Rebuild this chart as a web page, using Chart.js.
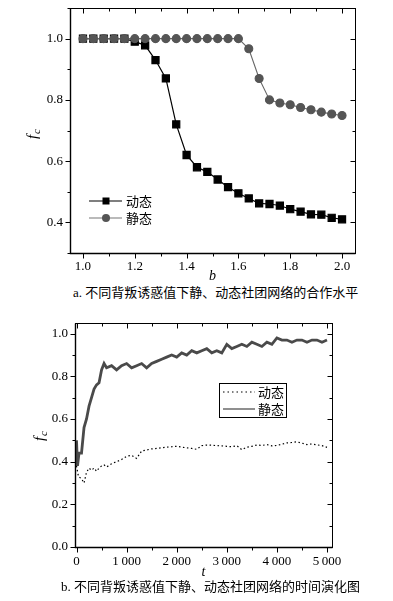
<!DOCTYPE html>
<html>
<head>
<meta charset="utf-8">
<script src="https://cdn.jsdelivr.net/npm/chart.js@4.4.1/dist/chart.umd.min.js"></script>
<style>
body { margin: 0; background: #fff; }
.wrap { position: relative; width: 393px; height: 601px; }
canvas { position: absolute; left: 0; }
.cap { position: absolute; font: 13px "Liberation Serif", "Noto Sans CJK SC", serif; white-space: nowrap; color: #000; line-height: 16px; }
</style>
</head>
<body>
<div class="wrap">
<canvas id="chartA" width="393" height="285" style="top:0"></canvas>
<div class="cap" style="left:73px;top:285px">a. 不同背叛诱惑值下静、动态社团网络的合作水平</div>
<canvas id="chartB" width="393" height="280" style="top:305px"></canvas>
<div class="cap" style="left:61px;top:579px">b. 不同背叛诱惑值下静、动态社团网络的时间演化图</div>
</div>
<script>
// --- figure a: cooperation level vs b
var bValues = [1.00, 1.04, 1.08, 1.12, 1.16, 1.20, 1.24, 1.28, 1.32, 1.36, 1.40, 1.44, 1.48,
  1.52, 1.56, 1.60, 1.64, 1.68, 1.72, 1.76, 1.80, 1.84, 1.88, 1.92, 1.96, 2.00];
var dynamicFc = [1.0, 1.0, 1.0, 1.0, 1.0, 0.99, 0.978, 0.93, 0.87, 0.72, 0.62, 0.58, 0.565,
  0.54, 0.515, 0.495, 0.478, 0.462, 0.46, 0.455, 0.443, 0.435, 0.426, 0.425, 0.415, 0.41];
var staticFc = [1.0, 1.0, 1.0, 1.0, 1.0, 1.0, 1.0, 1.0, 1.0, 1.0, 1.0, 1.0, 1.0,
  1.0, 1.0, 1.0, 0.967, 0.87, 0.80, 0.79, 0.784, 0.775, 0.768, 0.76, 0.754, 0.749];
var ticksA_x = [1.0, 1.2, 1.4, 1.6, 1.8, 2.0];
var ticksA_y = [0.4, 0.6, 0.8, 1.0];

// --- figure b: time evolution
var tStatic = [0, 20, 50, 100, 150, 200, 250, 300, 350, 400, 450, 500, 550, 600, 700, 800, 900,
  1000, 1100, 1200, 1300, 1400, 1500, 1600, 1700, 1800, 1900, 2000, 2100, 2200, 2300, 2400,
  2500, 2600, 2700, 2800, 2900, 3000, 3100, 3200, 3300, 3400, 3500, 3600, 3700, 3800, 3900,
  4000, 4100, 4200, 4300, 4400, 4500, 4600, 4700, 4800, 4900, 5000];
var fcStatic = [0.50, 0.38, 0.44, 0.44, 0.56, 0.60, 0.66, 0.70, 0.74, 0.76, 0.77, 0.83, 0.86,
  0.84, 0.85, 0.83, 0.85, 0.86, 0.84, 0.85, 0.86, 0.84, 0.86, 0.87, 0.88, 0.89, 0.90, 0.89,
  0.91, 0.90, 0.92, 0.91, 0.92, 0.93, 0.91, 0.92, 0.91, 0.95, 0.93, 0.94, 0.95, 0.94, 0.96,
  0.95, 0.94, 0.96, 0.95, 0.98, 0.97, 0.97, 0.96, 0.97, 0.97, 0.96, 0.97, 0.97, 0.96, 0.97];
var tDynamic = [0, 40, 100, 150, 200, 250, 300, 350, 400, 450, 500, 550, 600, 700, 800, 900,
  1000, 1100, 1200, 1300, 1400, 1500, 1600, 1700, 1800, 1900, 2000, 2100, 2200, 2300, 2400,
  2500, 2600, 2700, 2800, 2900, 3000, 3100, 3200, 3300, 3400, 3500, 3600, 3700, 3800, 3900,
  4000, 4100, 4200, 4300, 4400, 4500, 4600, 4700, 4800, 4900, 5000];
var fcDynamic = [0.38, 0.33, 0.32, 0.30, 0.35, 0.37, 0.36, 0.37, 0.355, 0.37, 0.38, 0.385,
  0.375, 0.39, 0.40, 0.41, 0.425, 0.43, 0.415, 0.45, 0.455, 0.46, 0.462, 0.465, 0.468, 0.47,
  0.472, 0.468, 0.465, 0.462, 0.458, 0.475, 0.478, 0.477, 0.475, 0.474, 0.472, 0.47, 0.475,
  0.456, 0.468, 0.472, 0.478, 0.476, 0.48, 0.474, 0.476, 0.482, 0.488, 0.49, 0.493, 0.487,
  0.48, 0.483, 0.479, 0.475, 0.467];

var serif = '"Liberation Serif", "Times New Roman", serif';
var cjk = '"Noto Sans CJK SC", sans-serif';

function pts(xs, ys) {
  return xs.map(function (v, i) { return { x: v, y: ys[i] }; });
}

// kill the label padding chart.js adds so the plot box sits where we want it
function fixX(h) {
  return function (s) { s.height = h; s.paddingLeft = 0; s.paddingRight = 0; };
}
function fixY(w) {
  return function (s) { s.width = w; s.paddingTop = 0; s.paddingBottom = 0; };
}

// frame, inward/outward ticks and rotated f_c label
var frameTicks = {
  id: 'frameTicks',
  afterDraw: function (chart, args, o) {
    var ctx = chart.ctx, a = chart.chartArea, x = chart.scales.x, y = chart.scales.y;
    var L = Math.round(a.left) + 0.5, R = Math.round(a.right) + 0.5;
    var T = Math.round(a.top) + 0.5, B = Math.round(a.bottom) + 0.5;
    ctx.save();
    ctx.strokeStyle = '#000';
    ctx.lineWidth = 1;
    ctx.strokeRect(L, T, R - L, B - T);
    ctx.lineWidth = 1.4;
    ctx.beginPath(); ctx.moveTo(L, T); ctx.lineTo(L, B); ctx.lineTo(R, B); ctx.stroke();
    ctx.lineWidth = 1;
    ctx.beginPath();
    var v, p, len;
    for (v = Math.ceil(x.min / o.xMinor - 1e-9) * o.xMinor; v <= x.max + 1e-9; v += o.xMinor) {
      p = Math.round(x.getPixelForValue(v)) + 0.5;
      len = Math.abs(v / o.xMajor - Math.round(v / o.xMajor)) < 1e-6 ? 5 : 3;
      ctx.moveTo(p, B); ctx.lineTo(p, B + len);
      ctx.moveTo(p, T); ctx.lineTo(p, T + len);
    }
    for (v = Math.ceil(y.min / o.yMinor - 1e-9) * o.yMinor; v <= y.max + 1e-9; v += o.yMinor) {
      p = Math.round(y.getPixelForValue(v)) + 0.5;
      len = Math.abs(v / o.yMajor - Math.round(v / o.yMajor)) < 1e-6 ? 5 : 3;
      ctx.moveTo(L, p); ctx.lineTo(L - len, p);
      ctx.moveTo(R, p); ctx.lineTo(R - len, p);
    }
    ctx.stroke();
    // y title f_c
    ctx.translate(o.yTitle[0], o.yTitle[1]);
    ctx.rotate(-Math.PI / 2);
    ctx.fillStyle = '#000';
    ctx.textBaseline = 'middle';
    ctx.font = 'italic 15px ' + serif;
    ctx.fillText('f', -6, 0);
    ctx.font = 'italic 11px ' + serif;
    ctx.fillText('c', -1, 4);
    ctx.restore();
  }
};

var legendA = {
  id: 'legendA',
  afterDraw: function (chart) {
    var ctx = chart.ctx;
    ctx.save();
    ctx.font = '13px ' + cjk;
    ctx.textBaseline = 'middle';
    ctx.fillStyle = '#000';
    // 动态
    ctx.strokeStyle = '#000'; ctx.lineWidth = 1.2;
    ctx.beginPath(); ctx.moveTo(89, 201); ctx.lineTo(122, 201); ctx.stroke();
    ctx.fillRect(102.5, 197.5, 7, 7);
    ctx.fillText('动态', 126, 201);
    // 静态
    ctx.strokeStyle = '#777';
    ctx.beginPath(); ctx.moveTo(89, 218); ctx.lineTo(122, 218); ctx.stroke();
    ctx.fillStyle = '#555';
    ctx.beginPath(); ctx.arc(106, 218, 4, 0, Math.PI * 2); ctx.fill();
    ctx.fillStyle = '#000';
    ctx.fillText('静态', 126, 218);
    ctx.restore();
  }
};

var legendB = {
  id: 'legendB',
  afterDraw: function (chart) {
    var ctx = chart.ctx;
    ctx.save();
    ctx.strokeStyle = '#000'; ctx.lineWidth = 1;
    ctx.strokeRect(219.5, 78.5, 67, 34);
    ctx.font = '13px ' + cjk;
    ctx.textBaseline = 'middle';
    ctx.fillStyle = '#000';
    ctx.lineWidth = 1.2;
    ctx.setLineDash([1.5, 3]);
    ctx.beginPath(); ctx.moveTo(223, 87); ctx.lineTo(255, 87); ctx.stroke();
    ctx.setLineDash([]);
    ctx.fillText('动态', 258, 87);
    ctx.strokeStyle = '#444';
    ctx.beginPath(); ctx.moveTo(223, 104); ctx.lineTo(255, 104); ctx.stroke();
    ctx.fillText('静态', 258, 104);
    ctx.restore();
  }
};

function tickFont() { return { family: serif, size: 13 }; }

new Chart(document.getElementById('chartA'), {
  type: 'line',
  data: {
    datasets: [{
      label: '静态',
      data: pts(bValues, staticFc),
      borderColor: '#666',
      borderWidth: 1.1,
      pointStyle: 'circle',
      pointRadius: 4,
      pointBackgroundColor: '#555',
      pointBorderColor: '#555',
      order: 0
    }, {
      label: '动态',
      data: pts(bValues, dynamicFc),
      borderColor: '#000',
      borderWidth: 1.2,
      pointStyle: 'rect',
      pointRadius: 5,
      pointBackgroundColor: '#000',
      pointBorderColor: '#000',
      order: 1
    }]
  },
  options: {
    responsive: false,
    animation: false,
    layout: { padding: { left: 0, top: 8, right: 38, bottom: 0 } },
    plugins: {
      legend: { display: false },
      tooltip: { enabled: false },
      frameTicks: { xMinor: 0.1, xMajor: 0.2, yMinor: 0.1, yMajor: 0.2, yTitle: [33, 133] }
    },
    scales: {
      x: {
        type: 'linear', min: 0.95, max: 2.05,
        afterFit: fixX(32),
        afterBuildTicks: function (s) { s.ticks = ticksA_x.map(function (v) { return { value: v }; }); },
        grid: { display: false, drawTicks: false },
        border: { display: false },
        ticks: { color: '#000', font: tickFont(), padding: 6, maxRotation: 0, autoSkip: false,
          callback: function (v) { return v.toFixed(1); } },
        title: { display: true, text: 'b', color: '#000', padding: { top: 0, bottom: 0 },
          font: { family: serif, size: 14, style: 'italic' } }
      },
      y: {
        min: 0.3, max: 1.1,
        afterFit: fixY(70),
        afterBuildTicks: function (s) { s.ticks = ticksA_y.map(function (v) { return { value: v }; }); },
        grid: { display: false, drawTicks: false },
        border: { display: false },
        ticks: { color: '#000', font: tickFont(), padding: 7,
          callback: function (v) { return v.toFixed(1); } }
      }
    }
  },
  plugins: [frameTicks, legendA]
});

var ticksB_x = [0, 1000, 2000, 3000, 4000, 5000];
var ticksB_y = [0.0, 0.2, 0.4, 0.6, 0.8, 1.0];

new Chart(document.getElementById('chartB'), {
  type: 'line',
  data: {
    datasets: [{
      label: '动态',
      data: pts(tDynamic, fcDynamic),
      borderColor: '#000',
      borderWidth: 1.2,
      borderDash: [1.5, 2.5],
      pointRadius: 0,
      order: 0
    }, {
      label: '静态',
      data: pts(tStatic, fcStatic),
      borderColor: '#4a4a4a',
      borderWidth: 2.8,
      pointRadius: 0,
      order: 1
    }]
  },
  options: {
    responsive: false,
    animation: false,
    layout: { padding: { left: 0, top: 18, right: 61, bottom: 0 } },
    plugins: {
      legend: { display: false },
      tooltip: { enabled: false },
      frameTicks: { xMinor: 500, xMajor: 1000, yMinor: 0.1, yMajor: 0.2, yTitle: [40, 130] }
    },
    scales: {
      x: {
        type: 'linear', min: -30, max: 5100,
        afterFit: fixX(38),
        afterBuildTicks: function (s) { s.ticks = ticksB_x.map(function (v) { return { value: v }; }); },
        grid: { display: false, drawTicks: false },
        border: { display: false },
        ticks: { color: '#000', font: tickFont(), padding: 7, maxRotation: 0, autoSkip: false,
          callback: function (v) { return v === 0 ? '0' : (v / 1000) + '\u2009000'; } },
        title: { display: true, text: 't', color: '#000', padding: { top: 0, bottom: 4 },
          font: { family: serif, size: 14, style: 'italic' } }
      },
      y: {
        min: 0, max: 1.05,
        afterFit: fixY(75),
        afterBuildTicks: function (s) { s.ticks = ticksB_y.map(function (v) { return { value: v }; }); },
        grid: { display: false, drawTicks: false },
        border: { display: false },
        ticks: { color: '#000', font: tickFont(), padding: 7,
          callback: function (v) { return v.toFixed(1); } }
      }
    }
  },
  plugins: [frameTicks, legendB]
});
</script>
</body>
</html>
